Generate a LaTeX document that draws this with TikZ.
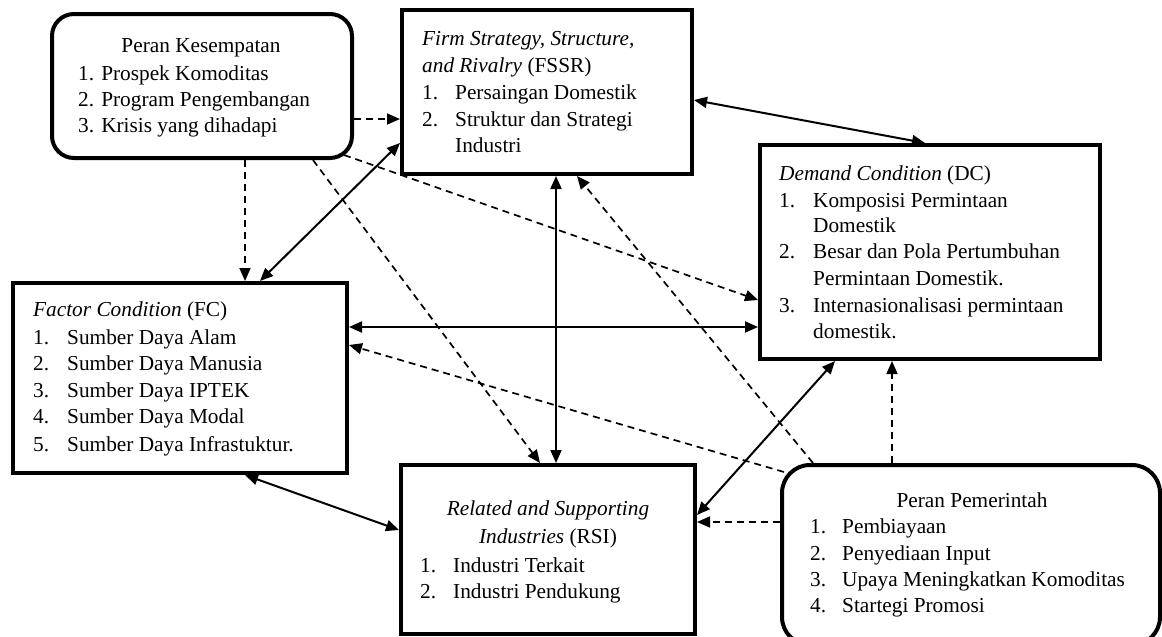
\documentclass[tikz,border=0pt]{standalone}
\usepackage{fontspec}
\setmainfont{Liberation Serif}
\usetikzlibrary{arrows.meta,calc}
\newcommand\myfs{\fontsize{21.3}{27}\selectfont}
\newcommand\itm[3]{\makebox[#1][l]{#2}#3}
\begin{document}
\begin{tikzpicture}[x=1pt,y=-1pt,
  box/.style={draw, line width=4pt, fill=white, inner sep=0pt},
  rbox/.style={box, rounded corners=22pt},
  txt/.style={anchor=base west, inner sep=0pt, font=\myfs},
  ctxt/.style={anchor=base, inner sep=0pt, font=\myfs},
  tip/.tip={Triangle[length=13pt,width=11pt]},
  both/.style={line width=2pt, tip-tip},
  dsh/.style={line width=1.7pt, dash pattern=on 7pt off 5pt, -tip},
]
\clip (0,0) rectangle (1162,637);
\fill[white] (0,0) rectangle (1162,637);

% boxes
\node[rbox, minimum width=300pt, minimum height=144pt] (pk) at (202,86) {};
\node[box, minimum width=290pt, minimum height=164pt] (fssr) at (547,92) {};
\node[box, minimum width=340pt, minimum height=214pt] (dc) at (930,252) {};
\node[box, minimum width=334pt, minimum height=190pt] (fc) at (180,378) {};
\node[box, minimum width=294pt, minimum height=169pt] (rsi) at (548,549.5) {};
\node[box, rounded corners=28pt, minimum width=378pt, minimum height=180pt] (pp) at (971,555) {};

% connectors: Peran Kesempatan
\draw[dsh] ([yshift=-33pt]pk.east) -- ([yshift=-27pt]fssr.west);
\draw[dsh] ([xshift=195pt]pk.south west) -- ([xshift=234pt]fc.north west);
\draw[dsh] ([xshift=263pt]pk.south west) -- ([xshift=141pt]rsi.north west);
\draw[dsh] ([xshift=-10pt,yshift=5pt]pk.south east) -- ([yshift=-48pt]dc.west);

% solid double arrows
\draw[both] ([xshift=249pt]fc.north west) -- ([yshift=-51pt]fssr.west);
\draw[both] ([yshift=51pt]fc.east) -- ([yshift=-75pt]dc.west);
\draw[both] ([xshift=9pt]fssr.south) -- ([xshift=8pt]rsi.north);
\draw[both] ([yshift=-8pt]fssr.east) -- ([xshift=-5pt]dc.north);
\draw[both] ([xshift=-95pt]dc.south) -- ([yshift=34.5pt]rsi.east);
\draw[both] ([xshift=65pt]fc.south) -- ([yshift=19.5pt]rsi.west);

% connectors: Peran Pemerintah
\draw[dsh] ([xshift=33pt]pp.north west) -- ([xshift=30pt]fssr.south);
\draw[dsh] ([xshift=4pt,yshift=-9pt]pp.north west) -- ([yshift=33pt]fc.east);
\draw[dsh] ([yshift=33pt]pp.west) -- ([yshift=27.5pt]rsi.east);
\draw[dsh] ([xshift=-79pt]pp.north) -- ([xshift=-38pt]dc.south);

% texts: Peran Kesempatan
\node[ctxt] (pkt) at (201,52) {Peran Kesempatan};
\node[txt] (pk1) at (78,80) {1. Prospek Komoditas};
\node[txt] (pk2) at (78,106) {2. Program Pengembangan};
\node[txt] (pk3) at (78,132) {3. Krisis yang dihadapi};

% FSSR
\node[txt] (fs0) at (422,45) {\textit{Firm Strategy, Structure,}};
\node[txt] (fs0b) at (422,72) {\textit{and Rivalry} (FSSR)};
\node[txt] (fs1) at (422,99) {\itm{33pt}{1.}{Persaingan Domestik}};
\node[txt] (fs2) at (422,126) {\itm{33pt}{2.}{Struktur dan Strategi}};
\node[txt] (fs2b) at (455,152) {Industri};

% DC
\node[txt] (dc0) at (779,180) {\textit{Demand Condition} (DC)};
\node[txt] (dc1) at (779,207) {\itm{34pt}{1.}{Komposisi Permintaan}};
\node[txt] (dc1b) at (813,232) {Domestik};
\node[txt] (dc2) at (779,258) {\itm{34pt}{2.}{Besar dan Pola Pertumbuhan}};
\node[txt] (dc2b) at (813,285) {Permintaan Domestik.};
\node[txt] (dc3) at (779,312) {\itm{34pt}{3.}{Internasionalisasi permintaan}};
\node[txt] (dc3b) at (813,338) {domestik.};

% FC
\node[txt] (fc0) at (33,316) {\textit{Factor Condition} (FC)};
\node[txt] (fc1) at (33,344) {\itm{34pt}{1.}{Sumber Daya Alam}};
\node[txt] (fc2) at (33,370) {\itm{34pt}{2.}{Sumber Daya Manusia}};
\node[txt] (fc3) at (33,397) {\itm{34pt}{3.}{Sumber Daya IPTEK}};
\node[txt] (fc4) at (33,423) {\itm{34pt}{4.}{Sumber Daya Modal}};
\node[txt] (fc5) at (33,451) {\itm{34pt}{5.}{Sumber Daya Infrastuktur.}};

% RSI
\node[ctxt] (rs0) at (548,515) {\textit{Related and Supporting}};
\node[ctxt] (rs0b) at (548,543) {\textit{Industries} (RSI)};
\node[txt] (rs1) at (420,572) {\itm{33pt}{1.}{Industri Terkait}};
\node[txt] (rs2) at (420,598) {\itm{33pt}{2.}{Industri Pendukung}};

% PP
\node[ctxt] (ppt) at (972,507) {Peran Pemerintah};
\node[txt] (pp1) at (810,533) {\itm{32pt}{1.}{Pembiayaan}};
\node[txt] (pp2) at (810,560) {\itm{32pt}{2.}{Penyediaan Input}};
\node[txt] (pp3) at (810,586) {\itm{32pt}{3.}{Upaya Meningkatkan Komoditas}};
\node[txt] (pp4) at (810,612) {\itm{32pt}{4.}{Startegi Promosi}};
\end{tikzpicture}
\end{document}
